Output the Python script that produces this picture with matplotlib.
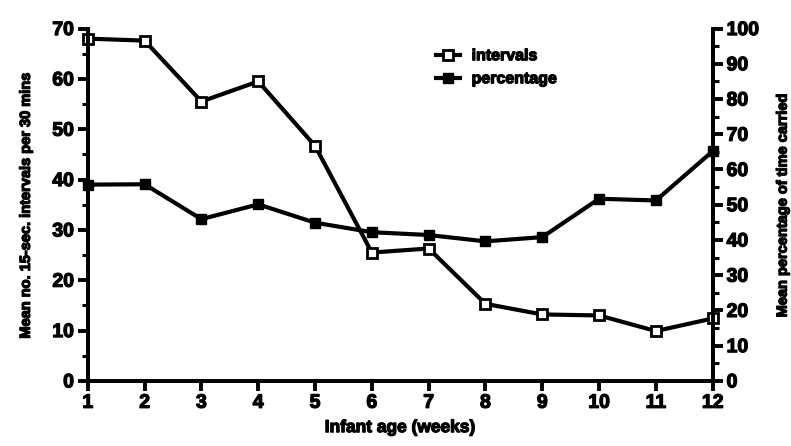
import matplotlib
matplotlib.use("Agg")
import matplotlib.pyplot as plt
import matplotlib.patheffects as pe
from matplotlib.ticker import MultipleLocator

# data
weeks = [1, 2, 3, 4, 5, 6, 7, 8, 9, 10, 11, 12]
intervals = [68.0, 67.6, 55.5, 59.5, 46.7, 25.5, 26.3, 15.3, 13.2, 13.0, 9.9, 12.4]
percentage = [55.7, 55.8, 45.9, 50.1, 44.9, 42.2, 41.4, 39.6, 40.8, 51.7, 51.2, 65.2]

plt.rcParams['font.family'] = ['Liberation Sans', 'DejaVu Sans']
plt.rcParams['font.weight'] = 'bold'

thick = [pe.withStroke(linewidth=0.9, foreground='black')]

fig = plt.figure(figsize=(7.91, 4.46), dpi=100)
ax = fig.add_axes([0.111, 0.146, 0.79, 0.79])
ax2 = ax.twinx()

l1, = ax.plot(weeks, intervals, color='black', lw=3, marker='s', ms=6.5,
              mfc='white', mec='black', mew=2, label='intervals', clip_on=False, zorder=3)
l2, = ax2.plot(weeks, percentage, color='black', lw=3, marker='s', ms=7.5,
               mfc='black', mec='black', label='percentage', clip_on=False, zorder=3)

ax.set_xlim(1, 12)
ax.set_ylim(0, 70)
ax2.set_ylim(0, 100)
ax.set_xticks(weeks)
ax.yaxis.set_major_locator(MultipleLocator(10))
ax.yaxis.set_minor_locator(MultipleLocator(5))
ax2.yaxis.set_major_locator(MultipleLocator(10))
ax2.yaxis.set_minor_locator(MultipleLocator(5))

for a in (ax, ax2):
    a.spines['top'].set_visible(False)
    for s in ('left', 'right', 'bottom'):
        a.spines[s].set_linewidth(2.8)
    a.tick_params(which='major', length=7, width=2.8, labelsize=14, pad=3)
    a.tick_params(which='minor', length=4, width=2.2)
    for lab in a.get_xticklabels() + a.get_yticklabels():
        lab.set_path_effects(thick)

ax.set_xlabel('Infant age (weeks)', fontsize=12.5, fontweight='bold', labelpad=6,
              path_effects=thick)
ax.set_ylabel('Mean no. 15-sec. intervals per 30 mins', fontsize=10.5, fontweight='bold',
              labelpad=14, path_effects=thick)
ax2.set_ylabel('Mean percentage of time carried', fontsize=10.5, fontweight='bold',
               labelpad=12, path_effects=thick)

leg = ax.legend(handles=[l1, l2], loc='upper left', bbox_to_anchor=(0.535, 0.985), frameon=False,
                handlelength=1.5, handletextpad=0.7, labelspacing=0.5,
                prop={'weight': 'bold', 'size': 11.5})
for t in leg.get_texts():
    t.set_path_effects(thick)

fig.savefig('out.png', dpi=100)
